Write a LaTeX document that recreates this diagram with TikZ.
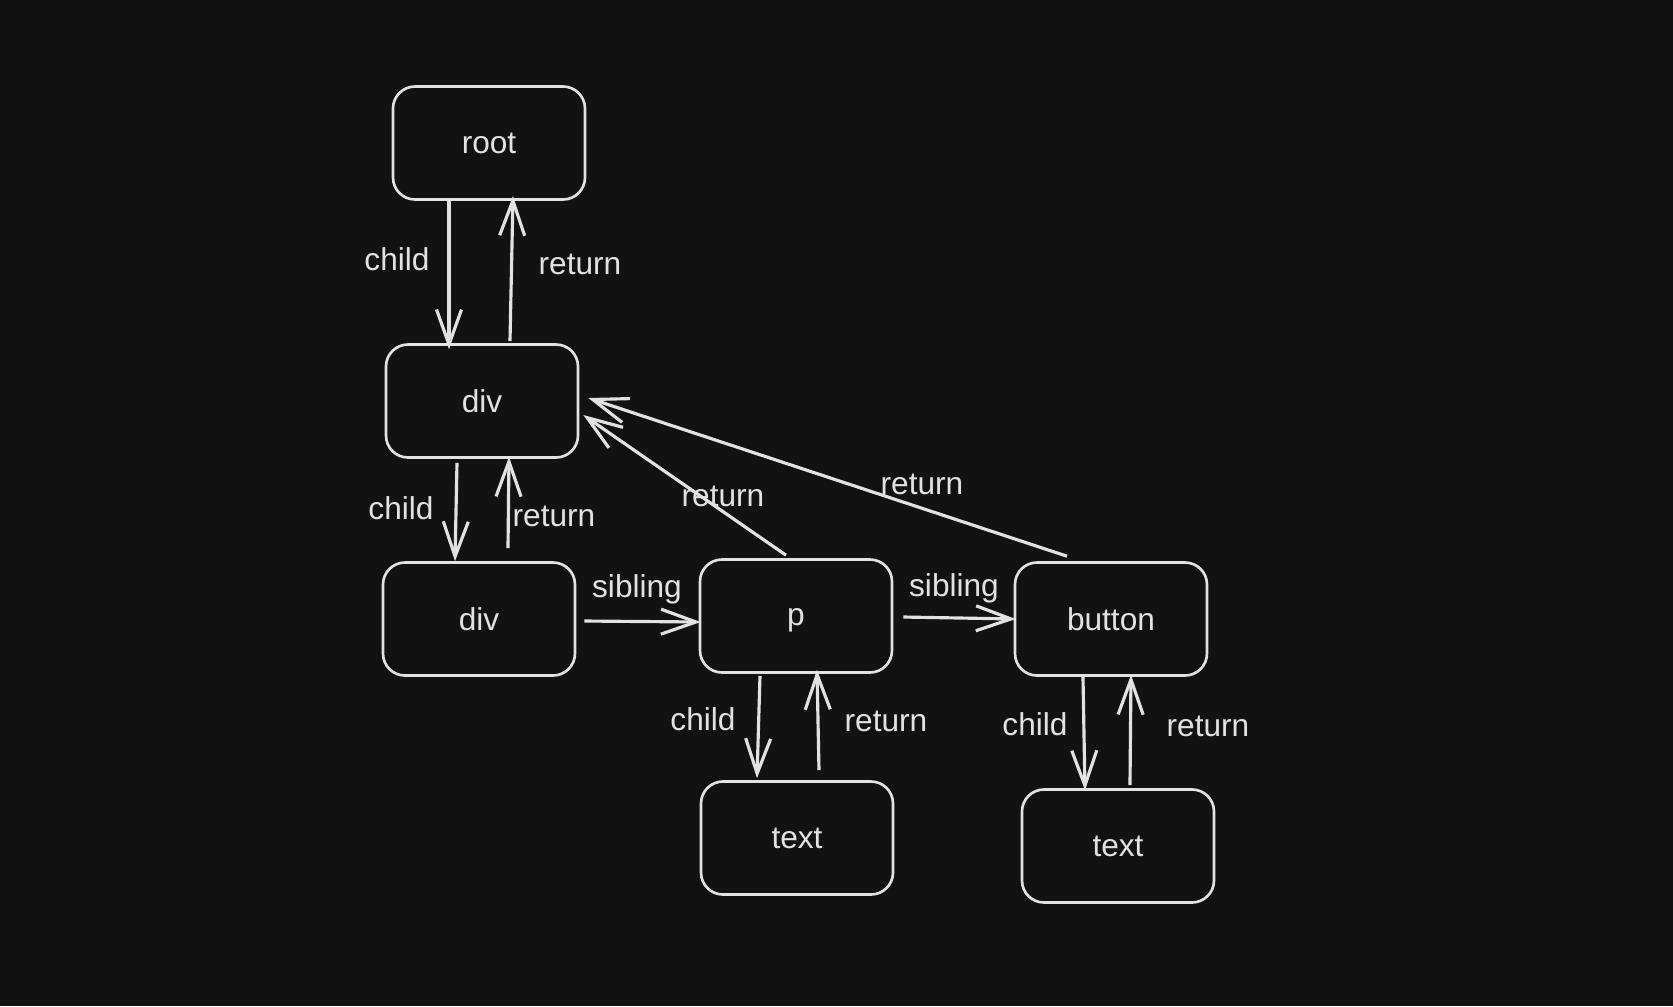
\documentclass[tikz,border=0pt]{standalone}
\usepackage{fontspec}
\setmainfont{Liberation Sans}
\usepackage{tikz}
\usetikzlibrary{arrows.meta}

\definecolor{bgdark}{HTML}{121212}
\definecolor{inkwhite}{HTML}{E2E2E2}

\begin{document}
\begin{tikzpicture}[font=\fontsize{9}{11}\selectfont,
  box/.style={draw=inkwhite, line width=0.75pt, rounded corners=2.2mm,
    minimum width=1.92cm, minimum height=1.13cm, text=inkwhite},
  arr/.style={draw=inkwhite, line width=0.9pt,
    -{Straight Barb[length=3.5mm, width=2.5mm, line width=0.9pt]}},
  lbl/.style={text=inkwhite, inner sep=1pt}]

% Background (fixes the page size):
\fill[bgdark] (0,0) rectangle (16.73,-10.06);
\useasboundingbox (0,0) rectangle (16.73,-10.06);

%--- Boxes of the tree ---
\node[box] (root) at (4.89,-1.43) {root};
\node[box] (divA) at (4.82,-4.01) {div};
\node[box] (divB) at (4.79,-6.19) {div};
\node[box, text height=4.7pt, text depth=1.9pt] (p) at (7.96,-6.16) {\raisebox{-0.5mm}{p}};
\node[box] (button) at (11.11,-6.19) {button};
\node[box] (textA) at (7.97,-8.38) {text};
\node[box] (textB) at (11.18,-8.46) {text};

%--- child / return pairs (vertical) ---
% root <-> div
\draw[arr] ([xshift=-4mm]root.south) -- ([xshift=-4mm, yshift=-0.6mm]root.south |- divA.north);
\draw[arr] ([xshift=2.8mm, yshift=0.2mm]divA.north) -- ([xshift=3.1mm, yshift=0.5mm]divA.north |- root.south);
% div <-> div
\draw[arr] ([xshift=-2.5mm, yshift=-0.4mm]divA.south) -- ([xshift=-2.7mm]divA.south |- divB.north);
\draw[arr] ([xshift=2.9mm, yshift=1.3mm]divB.north) -- ([xshift=3mm, yshift=0.2mm]divB.north |- divA.south);
% p <-> text
\draw[arr] ([xshift=-3.6mm, yshift=-0.2mm]p.south) -- ([xshift=-3.9mm, yshift=0.2mm]p.south |- textA.north);
\draw[arr] ([xshift=2.2mm, yshift=1mm]textA.north) -- ([xshift=2mm, yshift=0.4mm]textA.north |- p.south);
% button <-> text
\draw[arr] ([xshift=-2.8mm]button.south) -- ([xshift=-2.6mm, yshift=-0.2mm]button.south |- textB.north);
\draw[arr] ([xshift=1.2mm, yshift=0.3mm]textB.north) -- ([xshift=1.3mm, yshift=0.2mm]textB.north |- button.south);

%--- siblings (horizontal) ---
\draw[arr] ([xshift=0.8mm, yshift=-0.2mm]divB.east) -- ([xshift=0.2mm, yshift=-0.6mm]p.west);
\draw[arr] ([xshift=1mm, yshift=-0.1mm]p.east) -- ([xshift=0.2mm]button.west);

%--- returns back to the outer div ---
\draw[arr] ([xshift=-1mm, yshift=0.3mm]p.north) -- ([xshift=0.4mm, yshift=-1.4mm]divA.east);
\draw[arr] ([xshift=-4.4mm, yshift=0.5mm]button.north) -- ([xshift=0.9mm, yshift=0.3mm]divA.east);

%--- Labels ---
\node[lbl] (lChildA) at (3.97,-2.59) {child};
\node[lbl] (lReturnA) at (5.80,-2.64) {return};
\node[lbl] (lChildB) at (4.01,-5.08) {child};
\node[lbl] (lReturnB) at (5.54,-5.16) {return};
\node[lbl] (lSiblingA) at (6.37,-5.89) {sibling};
\node[lbl] (lSiblingB) at (9.54,-5.88) {sibling};
\node[lbl] (lReturnP) at (7.23,-4.96) {return};
\node[lbl] (lReturnBtn) at (9.22,-4.84) {return};
\node[lbl] (lChildC) at (7.03,-7.19) {child};
\node[lbl] (lReturnC) at (8.86,-7.21) {return};
\node[lbl] (lChildD) at (10.35,-7.24) {child};
\node[lbl] (lReturnD) at (12.08,-7.26) {return};

\end{tikzpicture}
\end{document}
